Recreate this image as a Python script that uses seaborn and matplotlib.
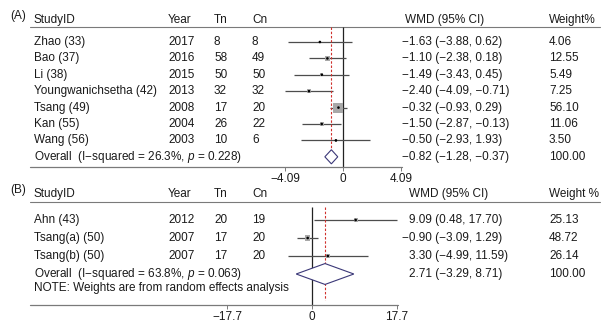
import numpy as np
import pandas as pd
import matplotlib
matplotlib.use("Agg")
import matplotlib.pyplot as plt
import matplotlib.transforms as mtrans
import seaborn as sns

# ---------------- data ----------------
studies_a = ["Zhao (33)", "Bao (37)", "Li (38)", "Youngwanichsetha (42)",
             "Tsang (49)", "Kan (55)", "Wang (56)"]
year_a = [2017, 2016, 2015, 2013, 2008, 2004, 2003]
tn_a = [8, 58, 50, 32, 17, 26, 10]
cn_a = [8, 49, 50, 32, 20, 22, 6]
wmd_a = [-1.63, -1.10, -1.49, -2.40, -0.32, -1.50, -0.50]
lo_a = [-3.88, -2.38, -3.43, -4.09, -0.93, -2.87, -2.93]
hi_a = [0.62, 0.18, 0.45, -0.71, 0.29, -0.13, 1.93]
weight_a = [4.06, 12.55, 5.49, 7.25, 56.10, 11.06, 3.50]
overall_a = [-0.82, -1.28, -0.37]
i2_a, p_a = "26.3%", "0.228"
ticks_a = [-4.09, 0, 4.09]

studies_b = ["Ahn (43)", "Tsang(a) (50)", "Tsang(b) (50)"]
year_b = [2012, 2007, 2007]
tn_b = [20, 17, 17]
cn_b = [19, 20, 20]
wmd_b = [9.09, -0.90, 3.30]
lo_b = [0.48, -3.09, -4.99]
hi_b = [17.70, 1.29, 11.59]
weight_b = [25.13, 48.72, 26.14]
overall_b = [2.71, -3.29, 8.71]
i2_b, p_b = "63.8%", "0.063"
ticks_b = [-17.7, 0, 17.7]

# ---------------- style ----------------
sns.set_style("white")
plt.rcParams["font.family"] = ["Liberation Sans", "DejaVu Sans"]
plt.rcParams["mathtext.fontset"] = "custom"
plt.rcParams["mathtext.rm"] = "Liberation Sans"
plt.rcParams["mathtext.it"] = "Liberation Sans:italic"
FS = 8.5
TXT = "#1a1a1a"
GRID = "#7a7a7a"
CI_C = "#4d4d4d"
BOX_C = "#a8a8a8"
DIA_C = "#3b3878"
RED = "#d0312d"

W, H = 606, 324
fig = plt.figure(figsize=(W / 100, H / 100), dpi=100)


def fmt(v):
    return f"{v:.2f}".replace("-", "\u2212")


def panel(top_px, bot_px, row0_px, step_px, zero_px, unit_px,
          studies, years, tn, cn, wmd, lo, hi, wt, overall, i2, p, ticks,
          label, hdr_i, line_i, zero_top_i, dia_h, box_max_px, weight_hdr,
          wmd_hdr_x, axis_right_px, note=None, note_i=None, dashed_bot_i=None):
    ax = fig.add_axes([0, 1 - bot_px / H, 1, (bot_px - top_px) / H])
    xlim = (-zero_px / unit_px, (W - zero_px) / unit_px)
    ylim = ((bot_px - row0_px) / step_px, (top_px - row0_px) / step_px)
    tr = mtrans.blended_transform_factory(fig.transFigure, ax.transData)
    n = len(studies)
    rows = np.arange(n)

    def t(xpx, y, s, **kw):
        ax.text(xpx / W, y, s, transform=tr, fontsize=FS, color=TXT,
                va="center", ha="left", **kw)

    t(34, hdr_i, "StudyID")
    t(168, hdr_i, "Year")
    t(214, hdr_i, "Tn")
    t(252, hdr_i, "Cn")
    t(wmd_hdr_x, hdr_i, "WMD (95% CI)")
    t(549, hdr_i, weight_hdr)
    ax.plot([30 / W, 600 / W], [line_i, line_i], transform=tr, color=GRID, lw=0.8)
    ax.text(10 / W, hdr_i - 0.25, label, transform=tr, fontsize=FS, color=TXT,
            va="center", ha="left")

    for i in range(n):
        t(34, i, studies[i])
        t(168, i, str(years[i]))
        t(214, i, str(tn[i]))
        t(252, i, str(cn[i]))
        xw = 409 - (7 if wmd[i] < 0 else 0)
        t(xw, i, f"{fmt(wmd[i])} ({fmt(lo[i])}, {fmt(hi[i])})")
        t(549, i, f"{wt[i]:.2f}")

    t(34, n, f"Overall  (I\u2212squared = {i2}, $\\it{{p}}$ = {p})")
    xo = 409 - (7 if overall[0] < 0 else 0)
    t(xo, n, f"{fmt(overall[0])} ({fmt(overall[1])}, {fmt(overall[2])})")
    t(549, n, "100.00")
    if note:
        t(34, note_i, note)

    # reference lines
    ax.vlines(0, zero_top_i, ylim[0], color="#222222", lw=0.9)
    ax.vlines(overall[0], zero_top_i, dashed_bot_i, colors=RED, lw=0.8,
              linestyles=(0, (2.2, 1.6)), zorder=2.5)

    # CI lines
    ax.hlines(rows, lo, hi, color=CI_C, lw=0.9, zorder=2)
    # weighted boxes
    df = pd.DataFrame({"wmd": wmd, "row": rows, "w": wt})
    maxw = max(wt)
    area_max = (box_max_px * 0.72) ** 2
    sns.scatterplot(data=df, x="wmd", y="row", size="w", sizes=(0, area_max),
                    size_norm=(0, maxw), marker="s", color=BOX_C,
                    edgecolor="none", legend=False, ax=ax, zorder=3)
    sns.scatterplot(data=df, x="wmd", y="row", marker="o", s=3.5,
                    color="black", edgecolor="none", legend=False, ax=ax, zorder=4)
    # overall diamond
    est, olo, ohi = overall
    ax.fill([olo, est, ohi, est, olo], [n, n - dia_h, n, n + dia_h, n],
            facecolor="white", edgecolor=DIA_C, lw=0.8, zorder=3)

    ax.set_xlim(*xlim)
    ax.set_ylim(*ylim)

    # axis line drawn explicitly
    for s in ["top", "left", "right", "bottom"]:
        ax.spines[s].set_visible(False)
    ybase = ylim[0] - 0.02
    ax.plot([(30 - zero_px) / unit_px, (axis_right_px - zero_px) / unit_px],
            [ybase, ybase], color=GRID, lw=0.9, clip_on=False, zorder=5)
    ax.set_xticks(ticks)
    ax.set_xticklabels([("\u2212" + f"{abs(v):g}") if v < 0 else f"{v:g}" for v in ticks],
                       fontsize=FS, color=TXT)
    ax.tick_params(axis="x", which="both", bottom=True, direction="out", length=3,
                   width=0.7, color=GRID, pad=1)
    ax.set_yticks([])
    ax.set_xlabel("")
    ax.set_ylabel("")
    ax.patch.set_alpha(0)
    return ax


panel(0, 167, 42, 16.4, 343, 58.0 / 4.09,
      studies_a, year_a, tn_a, cn_a, wmd_a, lo_a, hi_a, weight_a, overall_a,
      i2_a, p_a, ticks_a, "(A)", hdr_i=-1.35, line_i=-0.92, zero_top_i=-0.92,
      dia_h=0.43, box_max_px=10, weight_hdr="Weight%", wmd_hdr_x=405,
      axis_right_px=402, dashed_bot_i=7.25)

panel(170, 305, 220, 18.0, 312, 85.0 / 17.7,
      studies_b, year_b, tn_b, cn_b, wmd_b, lo_b, hi_b, weight_b, overall_b,
      i2_b, p_b, ticks_b, "(B)", hdr_i=-1.44, line_i=-1.0, zero_top_i=-0.72,
      dia_h=0.58, box_max_px=5.5, weight_hdr="Weight %", wmd_hdr_x=409,
      axis_right_px=398,
      note="NOTE: Weights are from random effects analysis", note_i=3.8,
      dashed_bot_i=4.45)

fig.savefig("out.png", dpi=100)
